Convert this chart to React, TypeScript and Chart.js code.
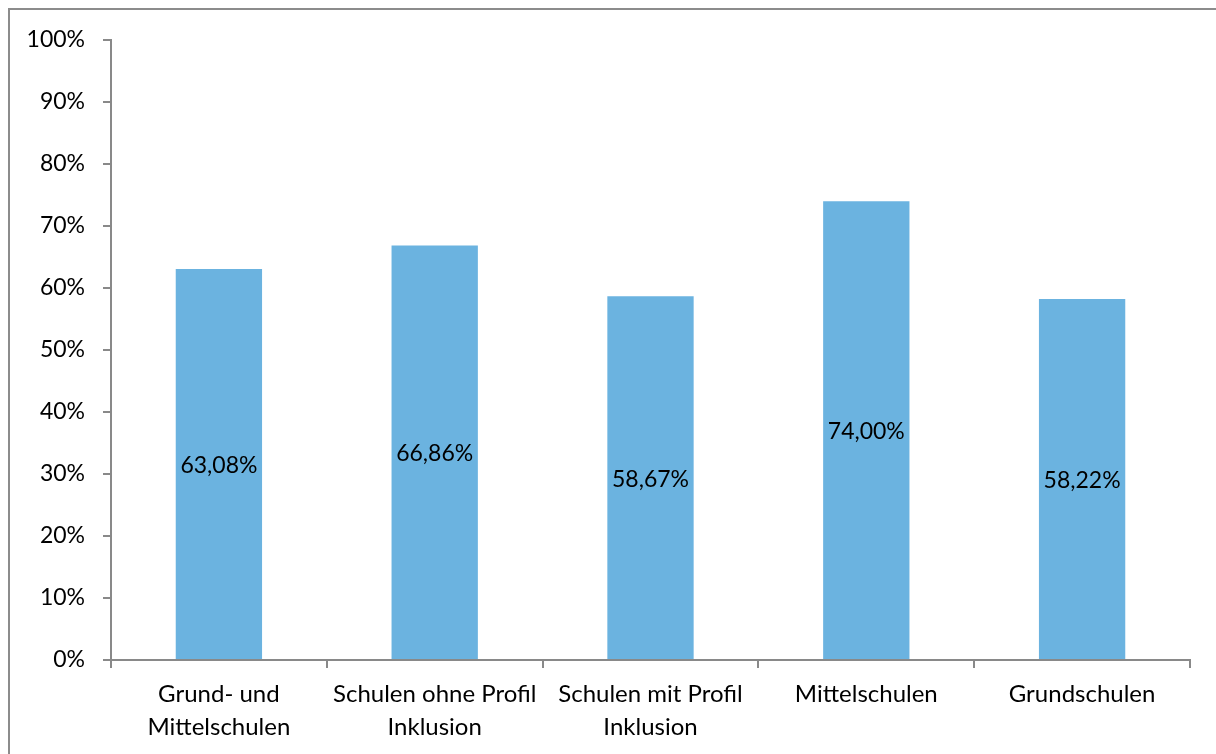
import React, { useEffect, useRef } from "react";
import { Chart, registerables } from "chart.js";

Chart.register(...registerables);

const categories: string[][] = [
  ["Grund- und", "Mittelschulen"],
  ["Schulen ohne Profil", "Inklusion"],
  ["Schulen mit Profil", "Inklusion"],
  ["Mittelschulen"],
  ["Grundschulen"],
];
const values: number[] = [63.08, 66.86, 58.67, 74.0, 58.22];
const yTicks: number[] = [0, 10, 20, 30, 40, 50, 60, 70, 80, 90, 100];

const FONT = "Lato";
const AXIS_COLOR = "#898989";
const BAR_COLOR = "#6BB3E0";

const fmt = (v: number) => v.toFixed(2).replace(".", ",") + "%";

const borderPlugin = {
  id: "outerBorder",
  beforeDraw(chart: any) {
    const ctx = chart.ctx;
    ctx.save();
    ctx.fillStyle = "#ffffff";
    ctx.fillRect(0, 0, chart.width, chart.height);
    ctx.strokeStyle = "#8c8c8c";
    ctx.lineWidth = 2;
    ctx.strokeRect(9, 9, chart.width + 20, chart.height + 20);
    ctx.restore();
  },
};

const labelPlugin = {
  id: "barLabels",
  afterDatasetsDraw(chart: any) {
    const ctx = chart.ctx;
    const meta = chart.getDatasetMeta(0);
    const yScale = chart.scales.y;
    ctx.save();
    ctx.font = `23px ${FONT}`;
    ctx.fillStyle = "#000000";
    ctx.textAlign = "center";
    ctx.textBaseline = "middle";
    meta.data.forEach((bar: any, i: number) => {
      const v = values[i];
      const y = yScale.getPixelForValue(v / 2);
      ctx.fillText(fmt(v), bar.x, y + 1);
    });
    ctx.restore();
  },
};

export default function App() {
  const ref = useRef<HTMLCanvasElement | null>(null);
  useEffect(() => {
    if (!ref.current) return;
    const chart = new Chart(ref.current, {
      type: "bar",
      data: {
        labels: categories as any,
        datasets: [
          {
            data: values,
            backgroundColor: BAR_COLOR,
            borderWidth: 0,
            categoryPercentage: 1,
            barPercentage: 0.4,
          },
        ],
      },
      options: {
        animation: false,
        responsive: false,
        maintainAspectRatio: false,
        layout: { padding: { top: 40, right: 26, left: 0, bottom: 0 } },
        plugins: { legend: { display: false }, tooltip: { enabled: false } },
        scales: {
          x: {
            grid: {
              display: true,
              drawOnChartArea: false,
              drawTicks: true,
              tickLength: 8,
              color: AXIS_COLOR,
              lineWidth: 2,
              offset: true,
            },
            border: { display: true, color: AXIS_COLOR, width: 2 },
            ticks: {
              color: "#000000",
              font: { family: FONT, size: 24, lineHeight: 1.375 },
              padding: 10,
              maxRotation: 0,
              autoSkip: false,
            },
            afterFit(scale: any) {
              scale.height = 94;
            },
          },
          y: {
            min: 0,
            max: 100,
            afterBuildTicks(scale: any) {
              scale.ticks = yTicks.map((v) => ({ value: v }));
            },
            grid: {
              display: true,
              drawOnChartArea: false,
              drawTicks: true,
              tickLength: 8,
              color: AXIS_COLOR,
              lineWidth: 2,
            },
            border: { display: true, color: AXIS_COLOR, width: 2 },
            ticks: {
              color: "#000000",
              font: { family: FONT, size: 23 },
              padding: 18,
              callback: (v: any) => `${v}%`,
            },
            afterFit(scale: any) {
              scale.width = 111;
            },
          },
        },
      },
      plugins: [borderPlugin, labelPlugin],
    });
    return () => chart.destroy();
  }, []);
  return (
    <div style={{ position: "absolute", left: 0, top: 0, width: 1216, height: 754 }}>
      <canvas ref={ref} width={1216} height={754} style={{ width: 1216, height: 754 }} />
    </div>
  );
}
